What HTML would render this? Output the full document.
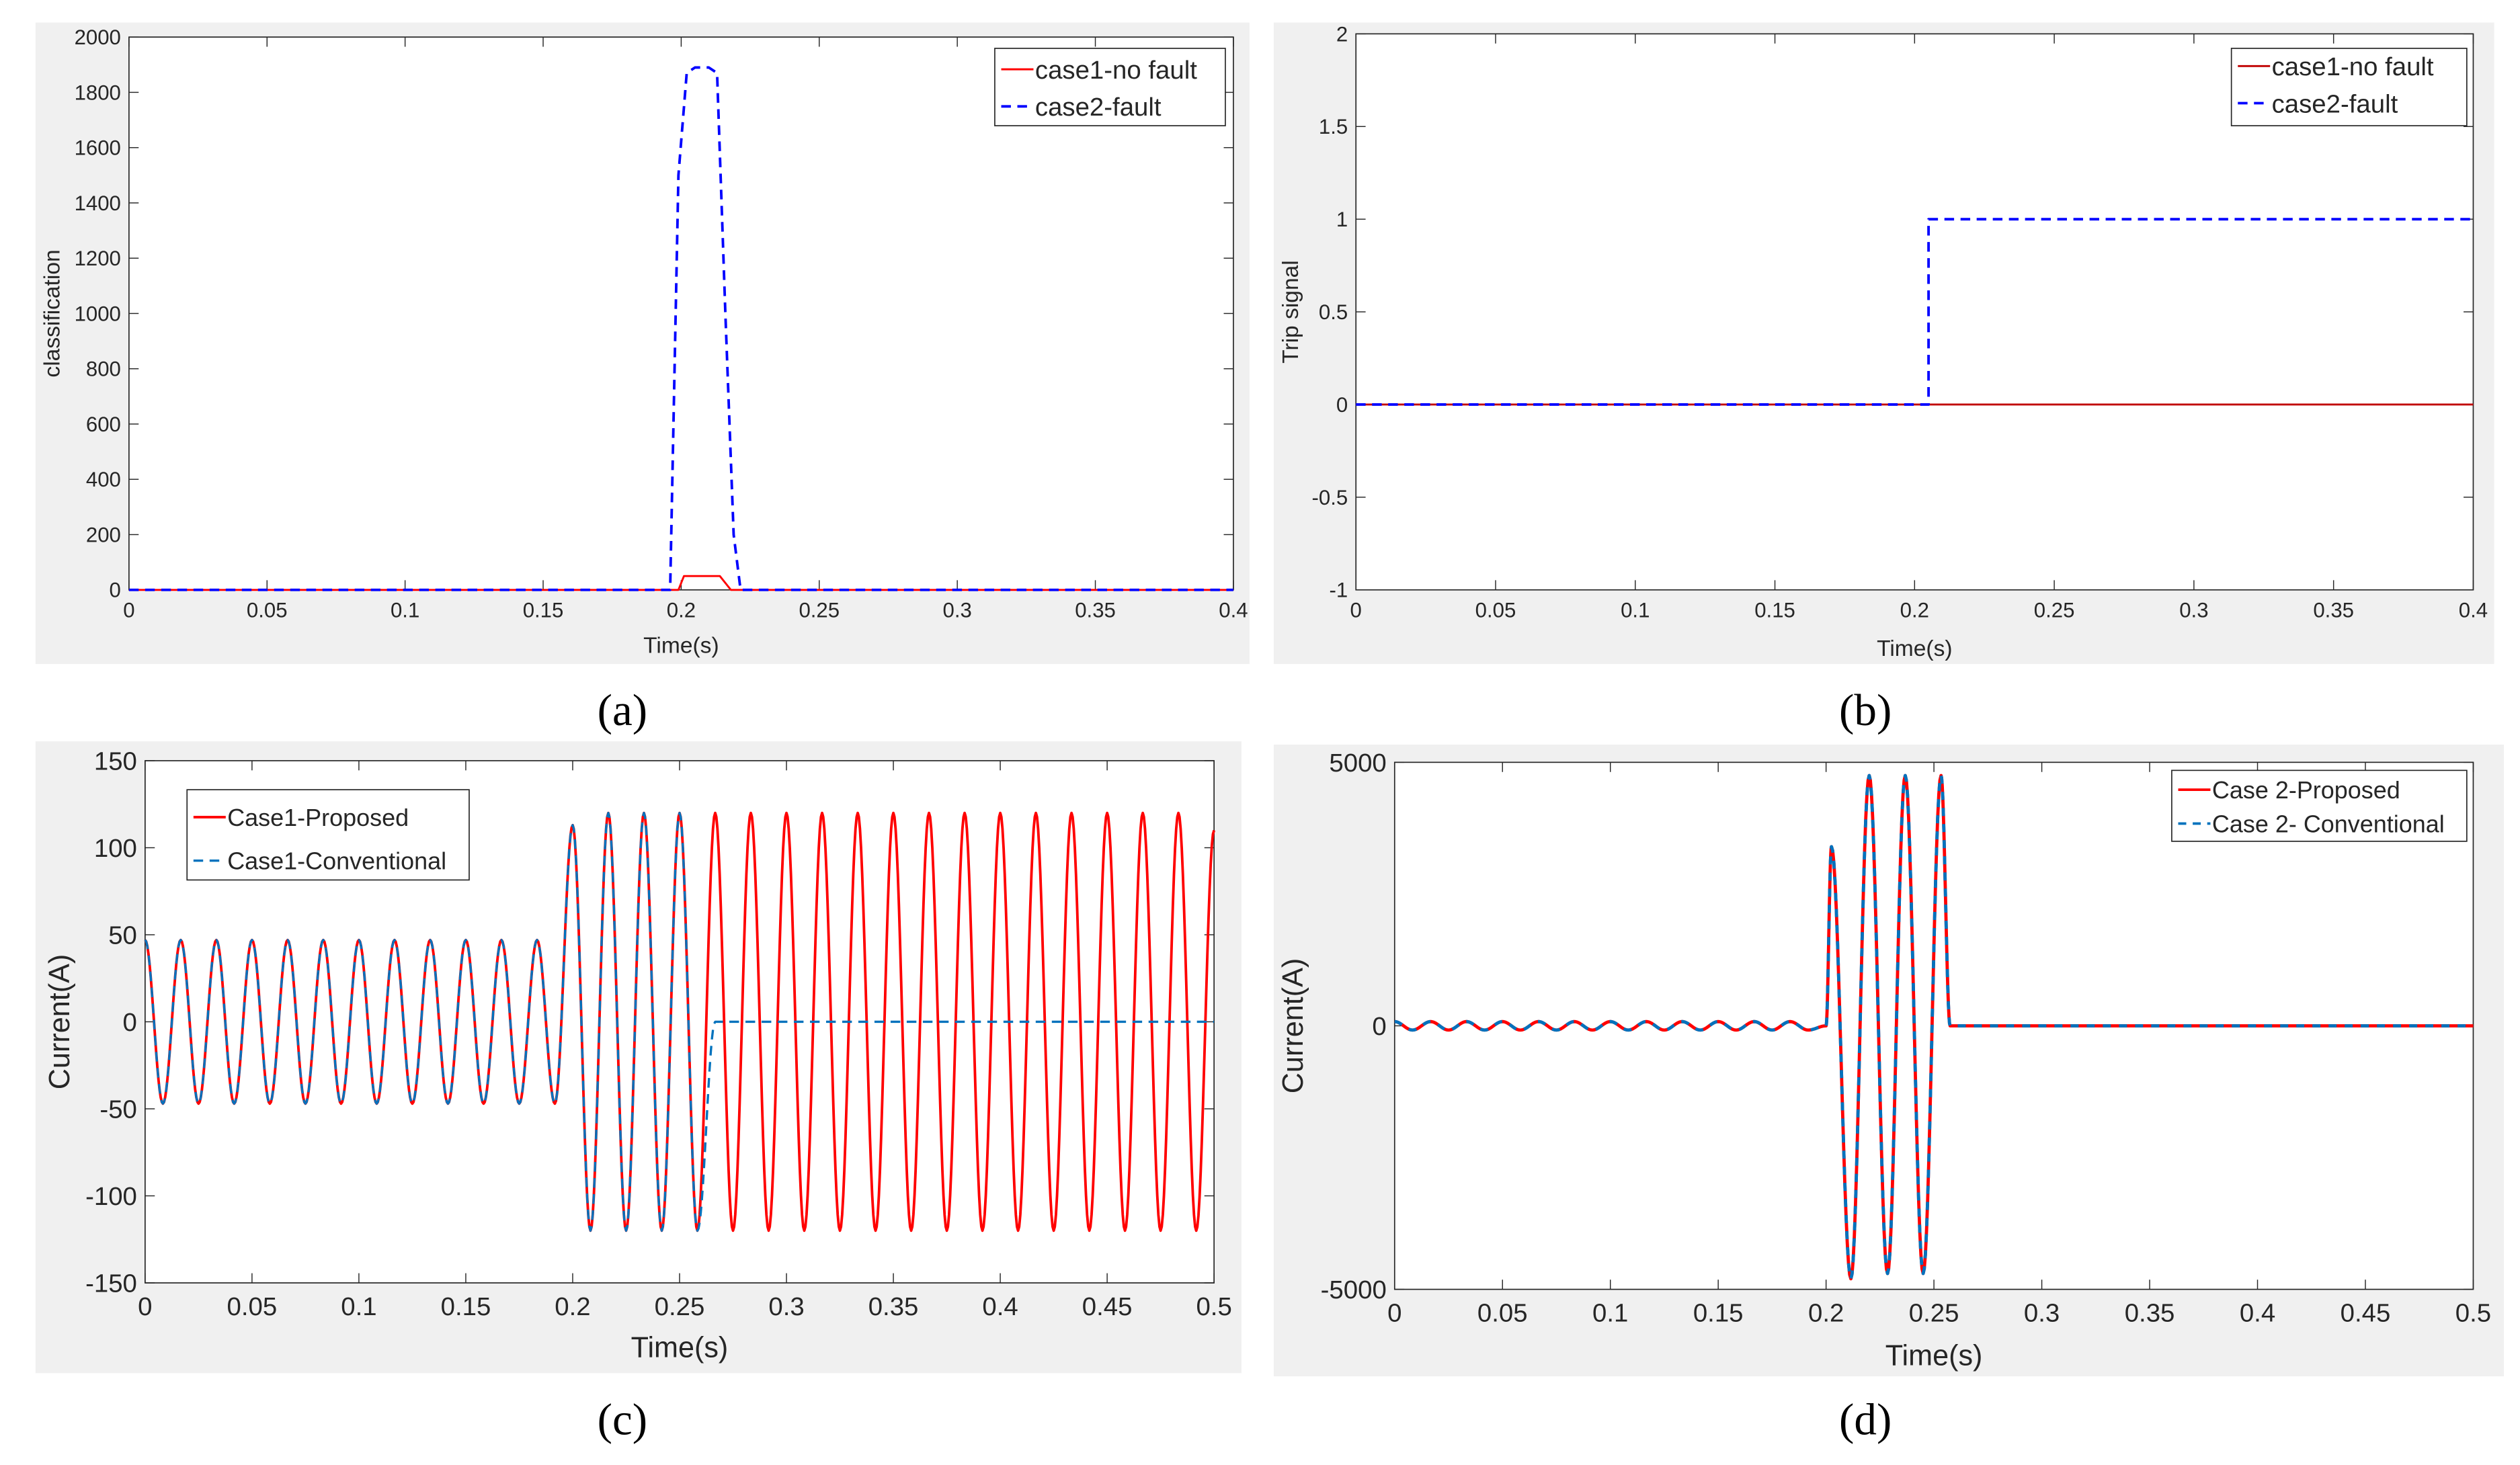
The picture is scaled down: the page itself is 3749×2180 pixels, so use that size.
<!DOCTYPE html>
<html><head><meta charset="utf-8"><style>
html,body{margin:0;padding:0;background:#fff;}
svg{display:block;}
text{font-family:"Liberation Sans",sans-serif;fill:#262626;}
.cap{font-family:"Liberation Serif",serif;fill:#000;}
</style></head><body>
<svg id="fig" width="3749" height="2180" viewBox="0 0 1563 909" preserveAspectRatio="none" xmlns="http://www.w3.org/2000/svg"></svg>
<script>
// ---- Panel (a) data ----
const aTimes = [0, 0.196, 0.199, 0.202, 0.205, 0.21, 0.213, 0.216, 0.219, 0.2215, 0.4];
const aFault = [0, 0, 1500, 1870, 1890, 1890, 1870, 1000, 200, 0, 0];
const aNoFaultT = [0, 0.199, 0.201, 0.214, 0.218, 0.4];
const aNoFault = [0, 0, 50, 50, 0, 0];
const aYTicks = [0,200,400,600,800,1000,1200,1400,1600,1800,2000];
const aXTicks = [0,0.05,0.1,0.15,0.2,0.25,0.3,0.35,0.4];
// ---- Panel (b) data ----
const bTimes = [0, 0.205, 0.205, 0.4];
const bFault = [0, 0, 1, 1];
const bNoFaultT = [0, 0.4];
const bNoFault = [0, 0];
const bYTicks = [-1,-0.5,0,0.5,1,1.5,2];
const bXTicks = [0,0.05,0.1,0.15,0.2,0.25,0.3,0.35,0.4];
// ---- Panel (c) data: half-cycle peak values (every 1/120 s) ----
const cHalf = 1/120;
const cProposed = [47,-47,47,-47,47,-47,47,-47,47,-47,47,-47,47,-47,47,-47,47,-47,47,-47,47,-47,47,-47,
  113,-120,120,-120,120,-120,120,-120,120,-120,120,-120,120,-120,120,-120,120,-120,120,-120,120,-120,120,-120,120,-120,120,-120,120,-120,120,-120,120,-120,120,-120,110];
const cConventional = [47,-47,47,-47,47,-47,47,-47,47,-47,47,-47,47,-47,47,-47,47,-47,47,-47,47,-47,47,-47,
  113,-120,120,-120,120,-120,120,-120,0,0,0,0,0,0,0,0,0,0,0,0,0,0,0,0,0,0,0,0,0,0,0,0,0,0,0,0,0];
const cYTicks = [-150,-100,-50,0,50,100,150];
const cXTicks = [0,0.05,0.1,0.15,0.2,0.25,0.3,0.35,0.4,0.45,0.5];
// ---- Panel (d) data: peak times and values ----
const dTimes = [0,0.0083,0.0167,0.025,0.0333,0.0417,0.05,0.0583,0.0667,0.075,0.0833,0.0917,0.1,0.1083,0.1167,0.125,0.1333,0.1417,0.15,0.1583,0.1667,0.175,0.1833,0.1917,0.2,
  0.2025,0.2115,0.22,0.2285,0.2367,0.245,0.2533,0.2575,0.5];
const dValues = [80,-80,80,-80,80,-80,80,-80,80,-80,80,-80,80,-80,80,-80,80,-80,80,-80,80,-80,80,-80,0,
  3400,-4800,4750,-4700,4750,-4700,4750,0,0];
const dYTicks = [-5000,0,5000];
const dXTicks = [0,0.05,0.1,0.15,0.2,0.25,0.3,0.35,0.4,0.45,0.5];

const NS='http://www.w3.org/2000/svg';
const svg=document.getElementById('fig');
function mk(tag,attrs,parent){const e=document.createElementNS(NS,tag);for(const k in attrs)e.setAttribute(k,attrs[k]);(parent||svg).appendChild(e);return e;}
function txt(s,attrs,parent){const e=mk('text',attrs,parent);e.textContent=s;return e;}

function panel(id,cfg){
  const g=mk('g',{});
  
  
  const bg=mk('rect',{x:cfg.bg[0],y:cfg.bg[1],width:cfg.bg[2]-cfg.bg[0],height:cfg.bg[3]-cfg.bg[1],fill:'#f0f0f0'},g);
  
  
  const [x0,y0,x1,y1]=cfg.plot;
  mk('rect',{x:x0,y:y0,width:x1-x0,height:y1-y0,fill:'#fff'},g);
  const X=v=>x0+(v-cfg.xr[0])/(cfg.xr[1]-cfg.xr[0])*(x1-x0);
  const Y=v=>y1-(v-cfg.yr[0])/(cfg.yr[1]-cfg.yr[0])*(y1-y0);
  const fs=cfg.fs;
  cfg.xt.forEach(v=>{
    const x=X(v);
    mk('line',{x1:x,x2:x,y1:y1,y2:y1-6,stroke:'#262626','stroke-width':0.6},g);
    mk('line',{x1:x,x2:x,y1:y0,y2:y0+6,stroke:'#262626','stroke-width':0.6},g);
    const t=txt(String(v),{x:x,y:y1+fs+4,'font-size':fs,'text-anchor':'middle'},g);
    
    
  });
  cfg.yt.forEach(v=>{
    const y=Y(v);
    mk('line',{x1:x0,x2:x0+6,y1:y,y2:y,stroke:'#262626','stroke-width':0.6},g);
    mk('line',{x1:x1,x2:x1-6,y1:y,y2:y,stroke:'#262626','stroke-width':0.6},g);
    const t=txt(String(v),{x:x0-5,y:y+fs*0.35,'font-size':fs,'text-anchor':'end'},g);
    
    
  });
  mk('rect',{x:x0,y:y0,width:x1-x0,height:y1-y0,fill:'none',stroke:'#262626','stroke-width':0.7},g);
  const xl=txt('Time(s)',{x:(x0+x1)/2,y:cfg.xlY,'font-size':cfg.lfs,'text-anchor':'middle'},g);
  
  
  const yl=txt(cfg.ylabel,{x:0,y:0,'font-size':cfg.ylfs,'text-anchor':'middle',transform:`translate(${cfg.ylX},${(y0+y1)/2}) rotate(-90)`},g);
  
  
  const cap=txt(cfg.cap,{x:cfg.capPos[0],y:cfg.capPos[1],'font-size':28,'text-anchor':'middle',class:'cap'},g);
  
  
  return {g,X,Y};
}
function pathFrom(pts,X,Y){return pts.map((p,i)=>(i?'L':'M')+X(p[0]).toFixed(2)+' '+Y(p[1]).toFixed(2)).join(' ');}
function linePts(ts,vs){return ts.map((t,i)=>[t,vs[i]]);}
function cosPts(ts,vs,tEnd){
  const pts=[];
  for(let i=0;i<ts.length-1;i++){
    const ta=ts[i],tb=ts[i+1],va=vs[i],vb=vs[i+1];
    const n=16;
    for(let k=0;k<n;k++){const f=k/n;pts.push([ta+f*(tb-ta),(va+vb)/2+(va-vb)/2*Math.cos(Math.PI*f)]);}
  }
  pts.push([ts[ts.length-1],vs[vs.length-1]]);
  return pts.filter(p=>p[0]<=tEnd+1e-9);
}
function series(g,d,color,w,dash,name){
  const p=mk('path',{d:d,fill:'none',stroke:color,'stroke-width':w,'stroke-dasharray':dash||'none','stroke-linejoin':'round'},g);
  
  
}
function legend(g,box,items,fs){
  const lg=mk('g',{},g);
  
  
  mk('rect',{x:box[0],y:box[1],width:box[2]-box[0],height:box[3]-box[1],fill:'#fff',stroke:'#262626','stroke-width':0.7},lg);
  items.forEach(it=>{
    const e=mk('g',{},lg);
    
    
    mk('line',{x1:box[0]+4,x2:box[0]+24,y1:it.y,y2:it.y,stroke:it.c,'stroke-width':it.w,'stroke-dasharray':it.dash||'none'},e);
    txt(it.label,{x:box[0]+25,y:it.y+fs*0.36,'font-size':fs,fill:'#000'},e);
  });
}
const RED='#ff0000',BLUE='#0000ff',MBLUE='#0072bd';
// (a)
{
 const P=panel('panel-a-classification',{bg:[22,14,775,412],plot:[80,23,765,366],xr:[0,0.4],yr:[0,2000],xt:aXTicks,yt:aYTicks,fs:13,lfs:14,ylfs:14,xlY:405,ylabel:'classification',ylX:37,cap:'(a)',capPos:[386,450]});
 series(P.g,pathFrom(linePts(aNoFaultT,aNoFault),P.X,P.Y),RED,1.2,null,'case1-no-fault-line');
 series(P.g,pathFrom(linePts(aTimes,aFault),P.X,P.Y),BLUE,1.6,'6 4','case2-fault-line');
 legend(P.g,[617,30,760,78],[{label:'case1-no fault',c:RED,w:1.2,y:43},{label:'case2-fault',c:BLUE,w:1.6,dash:'6 4',y:66}],16);
}
// (b)
{
 const P=panel('panel-b-trip-signal',{bg:[790,14,1547,412],plot:[841,21,1534,366],xr:[0,0.4],yr:[-1,2],xt:bXTicks,yt:bYTicks,fs:13,lfs:14,ylfs:14,xlY:407,ylabel:'Trip signal',ylX:805,cap:'(b)',capPos:[1157,450]});
 series(P.g,pathFrom(linePts(bNoFaultT,bNoFault),P.X,P.Y),'#c00000',1.2,null,'case1-no-fault-line');
 series(P.g,pathFrom(linePts(bTimes,bFault),P.X,P.Y),BLUE,1.6,'6 4','case2-fault-line');
 legend(P.g,[1384,30,1530,78],[{label:'case1-no fault',c:'#c00000',w:1.2,y:41},{label:'case2-fault',c:BLUE,w:1.6,dash:'6 4',y:64}],16);
}
// (c)
{
 const P=panel('panel-c-current-case1',{bg:[22,460,770,852],plot:[90,472,753,796],xr:[0,0.5],yr:[-150,150],xt:cXTicks,yt:cYTicks,fs:16,lfs:18,ylfs:18,xlY:842,ylabel:'Current(A)',ylX:43,cap:'(c)',capPos:[386,890]});
 const tP=cProposed.map((v,i)=>i*cHalf), tC=cConventional.map((v,i)=>i*cHalf);
 series(P.g,pathFrom(cosPts(tP,cProposed,0.5),P.X,P.Y),RED,1.6,null,'case1-proposed-line');
 series(P.g,pathFrom(cosPts(tC,cConventional,0.5),P.X,P.Y),MBLUE,1.4,'6 4','case1-conventional-line');
 legend(P.g,[116,490,291,546],[{label:'Case1-Proposed',c:RED,w:1.6,y:507},{label:'Case1-Conventional',c:MBLUE,w:1.4,dash:'6 4',y:534}],15);
}
// (d)
{
 const P=panel('panel-d-current-case2',{bg:[790,462,1553,854],plot:[865,473,1534,800],xr:[0,0.5],yr:[-5000,5000],xt:dXTicks,yt:dYTicks,fs:16,lfs:18,ylfs:18,xlY:847,ylabel:'Current(A)',ylX:808,cap:'(d)',capPos:[1157,890]});
 const pts=cosPts(dTimes,dValues,0.5);
 series(P.g,pathFrom(pts,P.X,P.Y),RED,2,null,'case2-proposed-line');
 series(P.g,pathFrom(pts,P.X,P.Y),MBLUE,2,'5 5','case2-conventional-line');
 legend(P.g,[1347,478,1530,522],[{label:'Case 2-Proposed',c:RED,w:1.6,y:490},{label:'Case 2- Conventional',c:MBLUE,w:1.6,dash:'5 4',y:511}],15);
}
</script>
</body></html>
